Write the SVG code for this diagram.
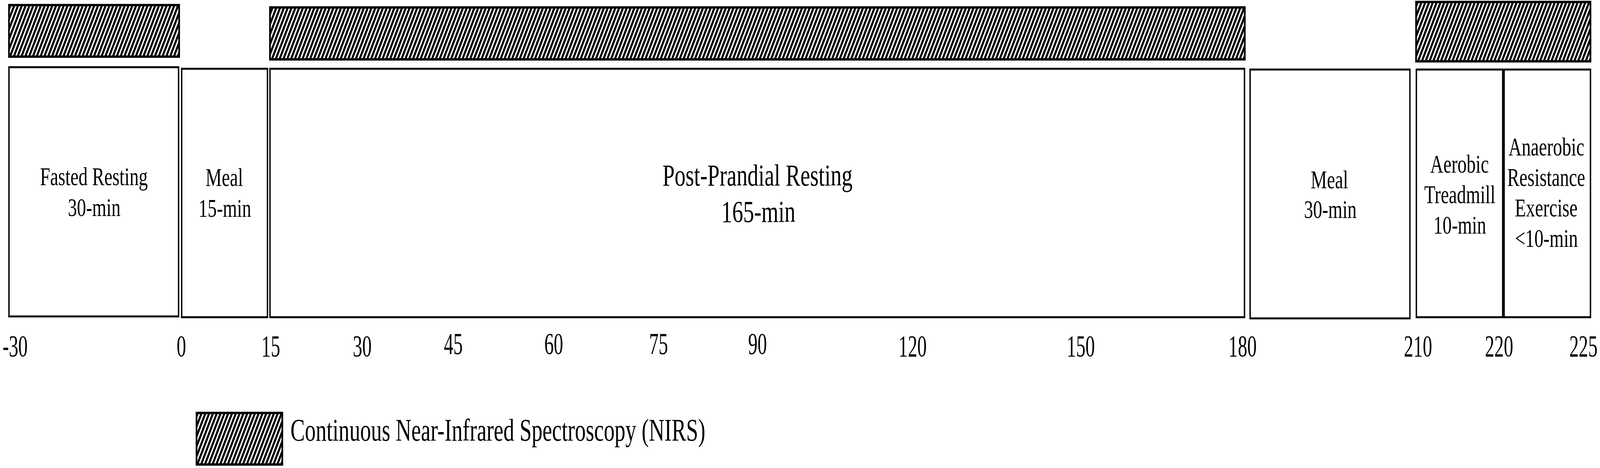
<svg xmlns="http://www.w3.org/2000/svg" width="5707" height="1198" viewBox="0 0 5707 1198" preserveAspectRatio="none" style="width:100vw;height:100vh;display:block">
<style>
.box{fill:#fff;stroke:#000;stroke-width:5}
.edge{stroke:#000;stroke-width:6;fill:none}
.hatch{fill:url(#hatch);stroke:#000;stroke-width:6}
.lbl{font-family:"Liberation Serif","Times New Roman",serif;font-size:65px;fill:#000;text-anchor:middle}
.big{font-size:78px}
.tick{font-family:"Liberation Serif","Times New Roman",serif;font-size:78px;fill:#000;text-anchor:middle}
.leg{font-family:"Liberation Serif","Times New Roman",serif;font-size:80px;fill:#000}
</style>
<defs>
<pattern id="hatch" patternUnits="userSpaceOnUse" width="12" height="12" patternTransform="rotate(28)">
<rect x="0" y="0" width="12" height="12" fill="#fff"/>
<rect x="0" y="0" width="7" height="12" fill="#000"/>
</pattern>
</defs>
<rect width="5707" height="1198" fill="#fff"/>
<g id="nirs-bars">
<rect class="hatch" x="32" y="13" width="607" height="132"/>
<rect class="hatch" x="963" y="19" width="3477" height="133"/>
<rect class="hatch" x="5051" y="5" width="622" height="152"/>
</g>
<g id="fasted">
<rect class="box" x="32" y="172" width="605" height="638"/>
<text class="lbl" x="335" y="474">Fasted Resting</text>
<text class="lbl" x="336" y="553">30-min</text>
</g>
<g id="meal1">
<rect class="box" x="648" y="176" width="306" height="636"/>
<text class="lbl" x="800" y="476">Meal</text>
<text class="lbl" x="802" y="555">15-min</text>
</g>
<g id="postprandial">
<rect class="box" x="963" y="176" width="3476" height="636"/>
<text class="lbl big" x="2702" y="475">Post-Prandial Resting</text>
<text class="lbl big" x="2705" y="568">165-min</text>
</g>
<g id="meal2">
<rect class="box" x="4459" y="178" width="570" height="637"/>
<text class="lbl" x="4742" y="482">Meal</text>
<text class="lbl" x="4745" y="558">30-min</text>
</g>
<g id="aerobic">
<rect class="box" x="5052" y="178" width="308" height="634"/>
<text class="lbl" x="5206" y="442">Aerobic</text>
<text class="lbl" x="5207" y="520">Treadmill</text>
<text class="lbl" x="5207" y="598">10-min</text>
</g>
<g id="anaerobic">
<rect class="box" x="5365" y="178" width="308" height="634"/>
<text class="lbl" x="5516" y="398">Anaerobic</text>
<text class="lbl" x="5515" y="476">Resistance</text>
<text class="lbl" x="5515" y="554">Exercise</text>
<text class="lbl" x="5516" y="632">&lt;10-min</text>
</g>
<g id="axis">
<text class="tick" transform="translate(54,912) scale(0.86,1)">-30</text>
<text class="tick" transform="translate(647,912) scale(0.86,1)">0</text>
<text class="tick" transform="translate(966,912) scale(0.86,1)">15</text>
<text class="tick" transform="translate(1292,912) scale(0.86,1)">30</text>
<text class="tick" transform="translate(1617,906) scale(0.86,1)">45</text>
<text class="tick" transform="translate(1975,906) scale(0.86,1)">60</text>
<text class="tick" transform="translate(2349,906) scale(0.86,1)">75</text>
<text class="tick" transform="translate(2702,906) scale(0.86,1)">90</text>
<text class="tick" transform="translate(3255,912) scale(0.86,1)">120</text>
<text class="tick" transform="translate(3855,912) scale(0.86,1)">150</text>
<text class="tick" transform="translate(4432,912) scale(0.86,1)">180</text>
<text class="tick" transform="translate(5058,912) scale(0.86,1)">210</text>
<text class="tick" transform="translate(5347,912) scale(0.86,1)">220</text>
<text class="tick" transform="translate(5648,912) scale(0.86,1)">225</text>
</g>
<g id="legend">
<rect class="hatch" x="701" y="1057" width="306" height="132"/>
<text class="leg" x="1036" y="1128" textLength="1480" lengthAdjust="spacingAndGlyphs">Continuous Near-Infrared Spectroscopy (NIRS)</text>
</g>
</svg>
